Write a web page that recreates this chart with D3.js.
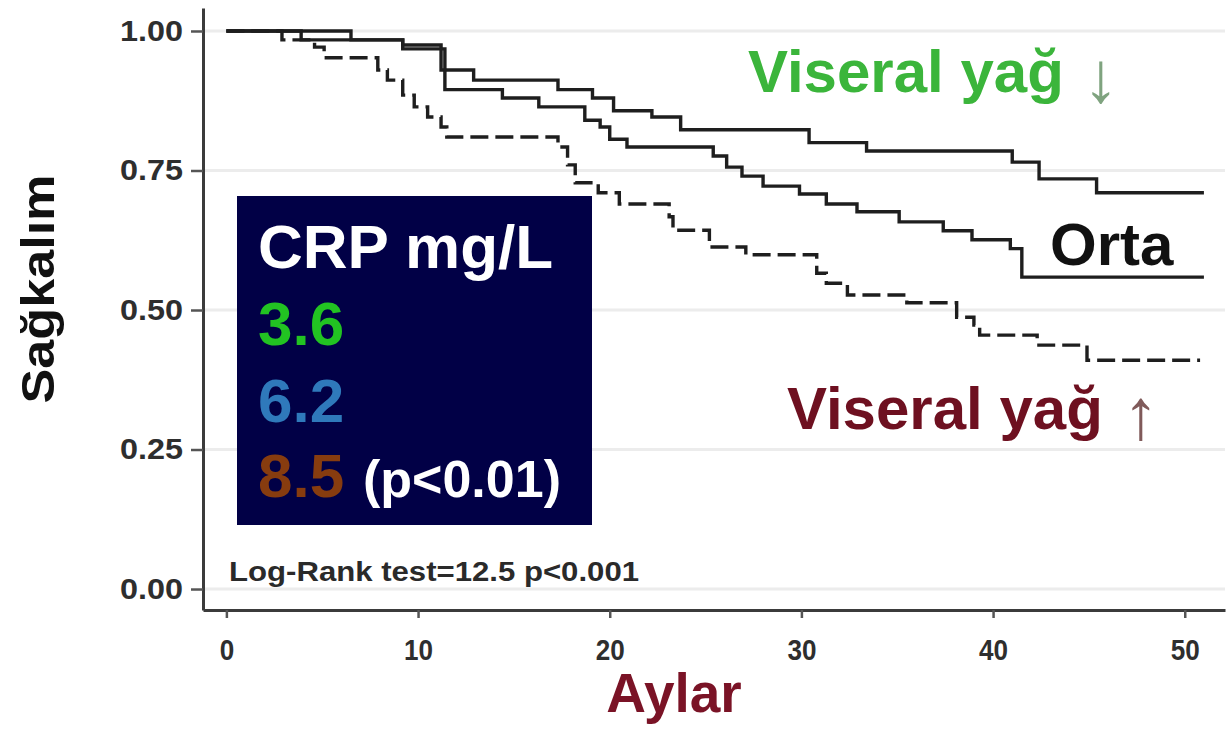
<!DOCTYPE html>
<html>
<head>
<meta charset="utf-8">
<script src="https://cdn.jsdelivr.net/npm/d3@7"></script>
<style>
  html, body { margin: 0; padding: 0; background: #fff; }
  svg { display: block; font-family: "Liberation Sans", Arial, sans-serif; }
</style>
</head>
<body>
<svg id="chart" width="1229" height="746"></svg>
<script>
// Kaplan–Meier survival by visceral fat group (months vs. survival probability)
const lowTimes  = [0, 6.5, 9.2, 11.2, 12.9, 17.3, 19.1, 20.2, 22.2, 23.7, 30.4, 33.4, 41.0, 42.4, 45.4, 51.0];
const lowSurv   = [1.00, 0.984, 0.975, 0.93, 0.912, 0.895, 0.88, 0.857, 0.846, 0.823, 0.80, 0.785, 0.765, 0.735, 0.71, 0.71];

const midTimes  = [0, 3.9, 9.2, 11.4, 14.4, 16.3, 18.7, 19.5, 20.0, 20.9, 25.4, 26.1, 26.9, 28.0, 29.9, 31.3, 32.9, 35.1, 37.4, 38.9, 40.9, 41.5, 51.0];
const midSurv   = [1.00, 0.984, 0.968, 0.895, 0.88, 0.864, 0.84, 0.828, 0.806, 0.792, 0.776, 0.756, 0.74, 0.722, 0.708, 0.69, 0.676, 0.658, 0.642, 0.626, 0.61, 0.559, 0.559];

const highTimes = [0, 2.9, 4.6, 5.1, 7.9, 8.4, 9.2, 9.8, 10.5, 11.2, 11.5, 17.3, 17.8, 18.2, 19.4, 20.5, 23.1, 23.3, 25.2, 27.1, 30.8, 31.3, 32.4, 35.5, 38.1, 39.0, 39.3, 42.3, 44.9, 50.8];
const highSurv  = [1.00, 0.984, 0.971, 0.952, 0.93, 0.912, 0.885, 0.864, 0.846, 0.828, 0.81, 0.792, 0.76, 0.728, 0.71, 0.69, 0.667, 0.643, 0.613, 0.599, 0.566, 0.548, 0.527, 0.513, 0.487, 0.473, 0.455, 0.437, 0.41, 0.41];

const xTicks = [0, 10, 20, 30, 40, 50];
const yTicks = [0, 0.25, 0.5, 0.75, 1.0];

const crpTitle  = "CRP mg/L";
const crpValues = ["3.6", "6.2", "8.5"];
const crpP      = "(p<0.01)";
const logRankText = "Log-Rank test=12.5 p<0.001";

const svg = d3.select("#chart");

const x = d3.scaleLinear().domain([-1.22, 52.1]).range([203, 1225]);
const y = d3.scaleLinear().domain([-0.0376, 1.0412]).range([610, 8]);

// faint horizontal grid
svg.append("g")
  .selectAll("line")
  .data(yTicks)
  .join("line")
  .attr("x1", x.range()[0]).attr("x2", x.range()[1])
  .attr("y1", d => y(d)).attr("y2", d => y(d))
  .attr("stroke", "#ececec").attr("stroke-width", 3);

// survival curves
const line = d3.line()
  .x(d => x(d[0]))
  .y(d => y(d[1]))
  .curve(d3.curveStepAfter);

const curves = [
  { t: lowTimes,  s: lowSurv,  dash: null },
  { t: midTimes,  s: midSurv,  dash: null },
  { t: highTimes, s: highSurv, dash: "18,7" }
];

svg.append("g")
  .selectAll("path")
  .data(curves)
  .join("path")
  .attr("d", c => line(c.t.map((t, i) => [t, c.s[i]])))
  .attr("fill", "none")
  .attr("stroke", "#1e1e1e")
  .attr("stroke-width", 3.4)
  .attr("stroke-dasharray", c => c.dash);

// axes
const xAxis = d3.axisBottom(x)
  .tickValues(xTicks)
  .tickFormat(d3.format("d"))
  .tickSize(8)
  .tickSizeOuter(0)
  .tickPadding(21);

const yAxis = d3.axisLeft(y)
  .tickValues(yTicks)
  .tickFormat(d3.format(".2f"))
  .tickSize(12)
  .tickSizeOuter(0)
  .tickPadding(8);

const gx = svg.append("g").attr("transform", `translate(0,${y.range()[0]})`).call(xAxis);
const gy = svg.append("g").attr("transform", `translate(${x.range()[0]},0)`).call(yAxis);

[gx, gy].forEach(g => {
  g.select(".domain").attr("stroke", "#3b3b3b").attr("stroke-width", 3);
  g.selectAll(".tick line").attr("stroke", "#555").attr("stroke-width", 2.5);
  g.selectAll(".tick text")
    .attr("fill", "#2e2e2e")
    .style("font-size", "29px")
    .style("font-weight", "bold")
    .style("font-family", "'Liberation Sans', Arial, sans-serif")
    .attr("lengthAdjust", "spacingAndGlyphs");
});
gy.selectAll(".tick text").attr("textLength", 63);
gx.selectAll(".tick text").attr("textLength", d => String(d).length * 14.5);

// axis titles
svg.append("text")
  .attr("transform", "translate(54,289) rotate(-90)")
  .attr("text-anchor", "middle")
  .attr("fill", "#111")
  .style("font-size", "47px")
  .style("font-weight", "bold")
  .attr("textLength", 229)
  .attr("lengthAdjust", "spacingAndGlyphs")
  .text("Sağkalım");

svg.append("text")
  .attr("x", 674).attr("y", 712)
  .attr("text-anchor", "middle")
  .attr("fill", "#7a1326")
  .style("font-size", "55px")
  .style("font-weight", "bold")
  .text("Aylar");

// log-rank note
svg.append("text")
  .attr("x", 229).attr("y", 581)
  .attr("fill", "#2a2a2a")
  .style("font-size", "28px")
  .style("font-weight", "bold")
  .attr("textLength", 410)
  .attr("lengthAdjust", "spacingAndGlyphs")
  .text(logRankText);

// curve labels
function groupLabel(tx, ty, label, color, arrow, arrowColor, ax) {
  svg.append("text")
    .attr("x", tx).attr("y", ty)
    .attr("fill", color)
    .style("font-size", "60px")
    .style("font-weight", "bold")
    .text(label);
  if (arrow) {
    svg.append("text")
      .attr("x", ax).attr("y", ty + 10)
      .attr("text-anchor", "middle")
      .attr("fill", arrowColor)
      .style("font-size", "72px")
      .style("font-family", "'Liberation Sans', sans-serif")
      .style("font-weight", "normal")
      .text(arrow);
  }
}
groupLabel(748, 92, "Viseral yağ", "#3bb53b", "↓", "#7fa37f", 1101);
groupLabel(1050, 265, "Orta", "#111", null);
groupLabel(787, 429, "Viseral yağ", "#6e1020", "↑", "#805a5a", 1141);

// CRP box
const box = svg.append("g");
box.append("rect")
  .attr("x", 237).attr("y", 196)
  .attr("width", 355).attr("height", 329)
  .attr("fill", "#010046");

box.append("text")
  .attr("x", 258).attr("y", 268)
  .attr("fill", "#fff")
  .style("font-size", "62px").style("font-weight", "bold")
  .text(crpTitle);

const crpColors = ["#22c322", "#2f79bb", "#873c0f"];
const crpBase = [345, 422, 497];
box.selectAll("text.crp")
  .data(crpValues)
  .join("text")
  .attr("class", "crp")
  .attr("x", 258)
  .attr("y", (d, i) => crpBase[i])
  .attr("fill", (d, i) => crpColors[i])
  .style("font-size", "62px").style("font-weight", "bold")
  .text(d => d);

box.append("text")
  .attr("x", 363).attr("y", 497)
  .attr("fill", "#fff")
  .style("font-size", "52px").style("font-weight", "bold")
  .text(crpP);
</script>
</body>
</html>
